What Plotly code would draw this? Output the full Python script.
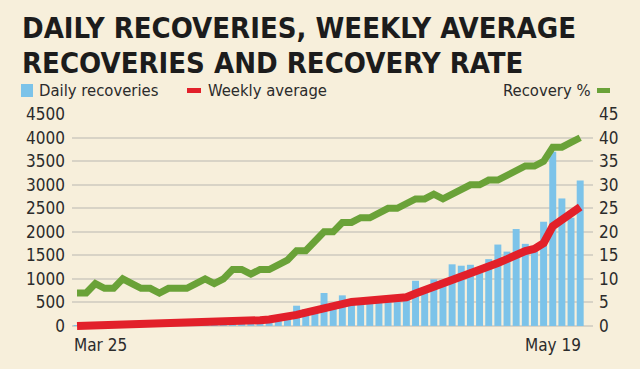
import plotly.graph_objects as go
import pandas as pd

dates = [d.strftime("%b %d").replace(" 0", " ") for d in pd.date_range("2020-03-25", "2020-05-19")]

daily_recoveries = [5, 8, 12, 15, 10, 20, 25, 18, 30, 35,
                    28, 40, 45, 50, 55, 65, 75, 85, 95, 110,
                    140, 160, 180, 210, 430, 360, 350, 700, 480, 650,
                    500, 520, 560, 600, 550, 580, 620, 960, 820, 990,
                    980, 1310, 1280, 1300, 1130, 1420, 1730, 1580, 2060, 1745,
                    1600, 2215, 3700, 2710, 2300, 3090]

weekly_average = [0, 4, 8, 12, 16, 20, 25, 30, 35, 40,
                  45, 50, 56, 62, 68, 75, 82, 90, 100, 110,
                  122, 138, 160, 190, 235, 285, 335, 385, 430, 480,
                  510, 525, 545, 560, 565, 590, 610, 690, 760, 820,
                  880, 960, 1050, 1110, 1160, 1250, 1340, 1420, 1510, 1590,
                  1640, 1760, 2120, 2260, 2400, 2530]

recovery_rate = [7, 7, 9, 8, 8, 10, 9, 8, 8, 7,
                 8, 8, 8, 9, 10, 9, 10, 12, 12, 11,
                 12, 12, 13, 14, 16, 16, 18, 20, 20, 22,
                 22, 23, 23, 24, 25, 25, 26, 27, 27, 28,
                 27, 28, 29, 30, 30, 31, 31, 32, 33, 34,
                 34, 35, 38, 38, 39, 40]

left_ticks = list(range(0, 4501, 500))
right_ticks = list(range(0, 46, 5))

BG = "#F7EFDB"
BLUE = "#7CC3E9"
RED = "#E2202A"
GREEN = "#6AA238"
TXT = "#2b2b2b"
NARROW = "DejaVu Sans Condensed, Liberation Sans Narrow, sans-serif"

fig = go.Figure()
fig.add_trace(go.Bar(x=dates, y=daily_recoveries, marker=dict(color=BLUE, line=dict(width=0)),
                     name="Daily recoveries", yaxis="y"))
fig.add_trace(go.Scatter(x=dates, y=weekly_average, mode="lines",
                         line=dict(color=RED, width=8), name="Weekly average", yaxis="y"))
fig.add_trace(go.Scatter(x=dates, y=recovery_rate, mode="lines",
                         line=dict(color=GREEN, width=7), name="Recovery %", yaxis="y2"))

fig.update_layout(
    width=640, height=369,
    margin=dict(l=72, r=47, t=114, b=36),
    paper_bgcolor=BG, plot_bgcolor=BG,
    showlegend=False, bargap=0.24,
    font=dict(family=NARROW, color=TXT, size=17),
    xaxis=dict(type="category", range=[-0.55, 56.4], showticklabels=False,
               showgrid=False, zeroline=False, showline=False, ticks=""),
    yaxis=dict(range=[-150, 4505], tickvals=left_ticks, showgrid=True,
               gridcolor="#D8D3C6", gridwidth=1.5, zeroline=False, showline=False,
               ticks="", ticklabelstandoff=6, tickfont=dict(size=17, color=TXT)),
    yaxis2=dict(range=[-1.5, 45.05], tickvals=right_ticks, overlaying="y", side="right",
                showgrid=False, zeroline=False, showline=False, ticks="",
                ticklabelstandoff=5, tickfont=dict(size=17, color=TXT)),
)

def py(p):
    return (333 - p) / 219.0

def px(p):
    return (p - 72) / 521.0

TITLE_FONT = dict(family=NARROW, size=29, color="#1c1c1c", weight="bold")
fig.add_annotation(text="<b>DAILY RECOVERIES, WEEKLY AVERAGE</b>", xref="paper", yref="paper",
                   x=px(20), y=py(28), xanchor="left", yanchor="middle", showarrow=False,
                   font=TITLE_FONT)
fig.add_annotation(text="<b>RECOVERIES AND RECOVERY RATE</b>", xref="paper", yref="paper",
                   x=px(20), y=py(63), xanchor="left", yanchor="middle", showarrow=False,
                   font=TITLE_FONT)

LEG_FONT = dict(family=NARROW, size=16.5, color=TXT)
fig.add_shape(type="rect", xref="paper", yref="paper", x0=px(21), x1=px(33), y0=py(97), y1=py(84),
              fillcolor=BLUE, line=dict(width=0))
fig.add_annotation(text="Daily recoveries", xref="paper", yref="paper", x=px(37), y=py(91),
                   xanchor="left", yanchor="middle", showarrow=False, font=LEG_FONT)
fig.add_shape(type="rect", xref="paper", yref="paper", x0=px(187), x1=px(201), y0=py(93), y1=py(88),
              fillcolor=RED, line=dict(width=0))
fig.add_annotation(text="Weekly average", xref="paper", yref="paper", x=px(206), y=py(91),
                   xanchor="left", yanchor="middle", showarrow=False, font=LEG_FONT)
fig.add_annotation(text="Recovery %", xref="paper", yref="paper", x=px(593), y=py(91),
                   xanchor="right", yanchor="middle", showarrow=False, font=LEG_FONT)
fig.add_shape(type="rect", xref="paper", yref="paper", x0=px(597), x1=px(610), y0=py(93), y1=py(88),
              fillcolor=GREEN, line=dict(width=0))

AX_FONT = dict(family=NARROW, size=17, color=TXT)
fig.add_annotation(text=dates[0], xref="x", yref="paper", x=dates[0], y=py(345),
                   xanchor="left", yanchor="middle", xshift=-5, showarrow=False, font=AX_FONT)
fig.add_annotation(text=dates[-1], xref="x", yref="paper", x=dates[-1], y=py(345),
                   xanchor="right", yanchor="middle", xshift=3, showarrow=False, font=AX_FONT)

fig.write_html("out.html", config={"displayModeBar": False},
               post_script="document.body.style.margin='0';document.body.style.overflow='hidden';")
